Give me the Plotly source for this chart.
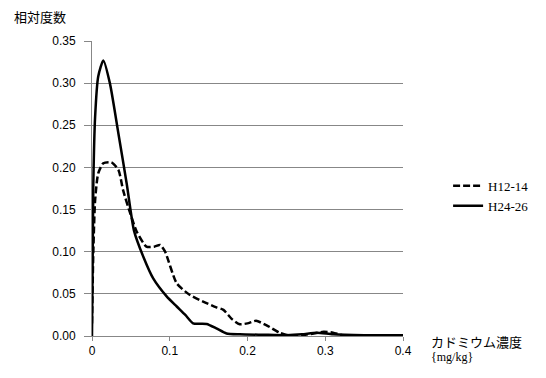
import plotly.graph_objects as go

# H12-14 (dashed)
x_h12 = [0.0, 0.0017, 0.004, 0.008, 0.0146, 0.025, 0.034, 0.040, 0.049, 0.0574, 0.070,
         0.080, 0.0875, 0.094, 0.109, 0.126, 0.145, 0.160, 0.169, 0.180, 0.190, 0.200,
         0.211, 0.224, 0.241, 0.252, 0.270, 0.285, 0.298, 0.310, 0.322, 0.340, 0.370, 0.400]
y_h12 = [0.015, 0.10, 0.161, 0.193, 0.205, 0.206, 0.197, 0.173, 0.146, 0.124, 0.106,
         0.106, 0.108, 0.100, 0.0625, 0.0486, 0.040, 0.034, 0.031, 0.020, 0.014, 0.015,
         0.018, 0.013, 0.004, 0.001, 0.001, 0.003, 0.005, 0.004, 0.001, 0.0005, 0.0005, 0.0005]

# H24-26 (solid)
x_h24 = [0.0, 0.0017, 0.004, 0.008, 0.0146, 0.023, 0.034, 0.0446, 0.054, 0.066, 0.0789,
         0.096, 0.109, 0.120, 0.130, 0.140, 0.1475, 0.160, 0.173, 0.190, 0.220, 0.250,
         0.270, 0.289, 0.310, 0.350, 0.400]
y_h24 = [0.0, 0.18, 0.26, 0.308, 0.327, 0.300, 0.240, 0.181, 0.125, 0.094, 0.068,
         0.047, 0.035, 0.025, 0.015, 0.0145, 0.0142, 0.009, 0.003, 0.002, 0.0015, 0.001,
         0.002, 0.004, 0.002, 0.001, 0.001]

x_ticks = [0, 0.1, 0.2, 0.3, 0.4]
x_tick_labels = ["0", "0.1", "0.2", "0.3", "0.4"]
y_ticks = [0, 0.05, 0.10, 0.15, 0.20, 0.25, 0.30, 0.35]
y_tick_labels = ["0.00", "0.05", "0.10", "0.15", "0.20", "0.25", "0.30", "0.35"]

grid = "#878787"
serif = "Liberation Serif"
sans = "Liberation Sans"
jp = "Noto Sans CJK JP"

fig = go.Figure()
fig.add_trace(go.Scatter(x=x_h12, y=y_h12, mode="lines", name="H12-14",
                         line=dict(color="black", width=2.5, dash="7px,3px",
                                   shape="spline", smoothing=0.6)))
fig.add_trace(go.Scatter(x=x_h24, y=y_h24, mode="lines", name="H24-26",
                         line=dict(color="black", width=2.5, shape="spline", smoothing=0.6)))

fig.update_layout(
    width=546, height=378,
    margin=dict(l=92, r=143, t=41, b=42),
    paper_bgcolor="white", plot_bgcolor="white",
    showlegend=True,
    legend=dict(x=1.145, y=0.56, xanchor="left", yanchor="top",
                font=dict(family=serif, size=13, color="black"),
                tracegroupgap=0, itemwidth=30, bgcolor="rgba(0,0,0,0)"),
    xaxis=dict(range=[0, 0.4], tickvals=x_ticks, ticktext=x_tick_labels,
               showgrid=False, zeroline=False, showline=True, linecolor=grid, linewidth=1,
               ticks="outside", ticklen=4, tickcolor=grid,
               tickfont=dict(family=sans, size=12, color="black")),
    yaxis=dict(range=[0, 0.35], tickvals=y_ticks, ticktext=y_tick_labels,
               showgrid=True, gridcolor=grid, gridwidth=1, zeroline=False,
               showline=True, linecolor=grid, linewidth=1,
               ticks="outside", ticklen=7, tickcolor=grid, ticklabelstandoff=6,
               tickfont=dict(family=sans, size=12, color="black")),
)

def pxx(p):
    return (p - 92) / 311.0
def pxy(p):
    return (336 - p) / 295.0
fig.add_annotation(text="相対度数", x=pxx(12), y=pxy(17), xref="paper", yref="paper",
                   xanchor="left", yanchor="middle", showarrow=False,
                   font=dict(family=jp, size=13, color="black"))
fig.add_annotation(text="カドミウム濃度", x=pxx(429), y=pxy(341), xref="paper", yref="paper",
                   xanchor="left", yanchor="middle", showarrow=False,
                   font=dict(family=jp, size=13, color="black"))
fig.add_annotation(text="{mg/kg}", x=pxx(429), y=pxy(357), xref="paper", yref="paper",
                   xanchor="left", yanchor="middle", showarrow=False,
                   font=dict(family=serif, size=12, color="black"))

fig.write_html("out.html", config={"displayModeBar": False},
               post_script="document.body.style.margin='0';document.body.style.overflow='hidden';")
